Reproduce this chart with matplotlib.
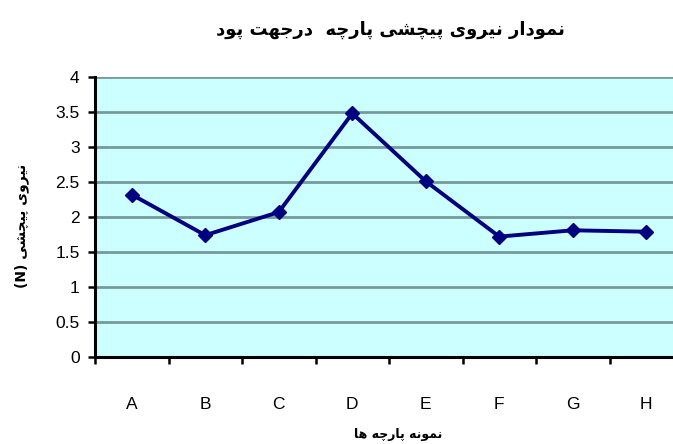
import matplotlib
matplotlib.use("Agg")
import matplotlib.pyplot as plt
from matplotlib.ticker import FixedLocator, FuncFormatter

# samples and torsion force (N)
samples = ["A", "B", "C", "D", "E", "F", "G", "H"]
force = [2.32, 1.74, 2.07, 3.48, 2.51, 1.72, 1.81, 1.79]
y_ticks = [0, 0.5, 1, 1.5, 2, 2.5, 3, 3.5, 4]

title_txt = "نمودار نیروی پیچشی پارچه  درجهت پود"
ylabel_txt = "نیروی پیچشی"
xlabel_txt = "نمونه پارچه ها"

# arabic presentation forms: isolated, final, initial, medial
FORMS = {
    "ا": ("\uFE8D", "\uFE8E", None, None),
    "ب": ("\uFE8F", "\uFE90", "\uFE91", "\uFE92"),
    "ت": ("\uFE95", "\uFE96", "\uFE97", "\uFE98"),
    "ج": ("\uFE9D", "\uFE9E", "\uFE9F", "\uFEA0"),
    "چ": ("\uFB7A", "\uFB7B", "\uFB7C", "\uFB7D"),
    "د": ("\uFEA9", "\uFEAA", None, None),
    "ر": ("\uFEAD", "\uFEAE", None, None),
    "ش": ("\uFEB5", "\uFEB6", "\uFEB7", "\uFEB8"),
    "م": ("\uFEE1", "\uFEE2", "\uFEE3", "\uFEE4"),
    "ن": ("\uFEE5", "\uFEE6", "\uFEE7", "\uFEE8"),
    "ه": ("\uFEE9", "\uFEEA", "\uFEEB", "\uFEEC"),
    "و": ("\uFEED", "\uFEEE", None, None),
    "ی": ("\uFBFC", "\uFBFD", "\uFBFE", "\uFBFF"),
    "پ": ("\uFB56", "\uFB57", "\uFB58", "\uFB59"),
}


def dual(c):
    return c in FORMS and FORMS[c][2] is not None


def shape(text):
    # join letters, then reverse for left-to-right drawing
    out = []
    for i, c in enumerate(text):
        if c not in FORMS:
            out.append(c)
            continue
        prev = text[i - 1] if i > 0 else ""
        nxt = text[i + 1] if i + 1 < len(text) else ""
        jp = dual(prev)
        jn = dual(c) and nxt in FORMS
        f = FORMS[c]
        if jp and jn:
            out.append(f[3])
        elif jp:
            out.append(f[1])
        elif jn:
            out.append(f[2])
        else:
            out.append(f[0])
    return "".join(out)[::-1]


fa_font = ["DejaVu Sans"]
plt.rcParams["font.family"] = ["Liberation Sans", "DejaVu Sans"]

fig = plt.figure(figsize=(6.73, 4.44), dpi=100)
ax = fig.add_axes([95 / 673, 87 / 444, 588 / 673, 280 / 444])
ax.set_facecolor("#CCFFFF")

x = list(range(len(samples)))
ax.plot(x, force, color="#000080", lw=2.8, marker="D", markersize=7,
        zorder=3, clip_on=False)

ax.set_xlim(-0.5, len(samples) - 0.5)
ax.set_ylim(0, 4)

ax.yaxis.set_major_locator(FixedLocator(y_ticks))
ax.yaxis.set_major_formatter(FuncFormatter(lambda v, p: f"{v:g}"))
ax.grid(axis="y", color="#769a9a", lw=2, zorder=1)

ax.set_xticks(x)
ax.set_xticklabels(samples)
ax.set_xticks([i - 0.5 for i in range(len(samples) + 1)], minor=True)
ax.tick_params(axis="x", which="major", length=0, pad=29, labelsize=12.5)
ax.tick_params(axis="x", which="minor", length=5, width=1.8, direction="out")
ax.tick_params(axis="y", length=5, width=1.8, direction="out", pad=6,
               labelsize=12.5)

for s in ["top", "right"]:
    ax.spines[s].set_visible(False)
for s in ["left", "bottom"]:
    ax.spines[s].set_linewidth(2.2)
    ax.spines[s].set_zorder(4)

fig.text(390 / 673, 1 - 30 / 444, shape(title_txt), family=fa_font,
         fontsize=13, fontweight="bold", ha="center", va="center")
fig.text(22 / 673, 1 - 226 / 444, "(N) " + shape(ylabel_txt), family=fa_font,
         fontsize=10, fontweight="bold", rotation=90, ha="center", va="center")
fig.text(398 / 673, 1 - 434 / 444, shape(xlabel_txt), family=fa_font,
         fontsize=9, fontweight="bold", ha="center", va="center")

fig.savefig("out.png", dpi=100)
